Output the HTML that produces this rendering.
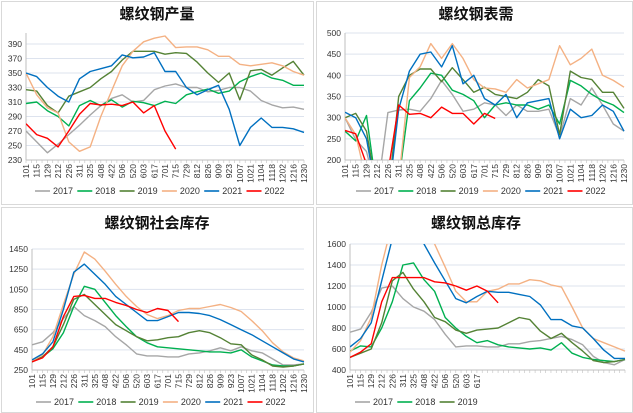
<!DOCTYPE html>
<html><head><meta charset="utf-8">
<style>
html,body{margin:0;padding:0;background:#fff;}
svg{display:block;font-family:"Liberation Sans","Noto Sans CJK SC",sans-serif;}
</style></head>
<body>
<svg id="c" width="633" height="413" viewBox="0 0 633 413"></svg>
<script>
const categories = ["101","115","129","212","226","311","325","408","422","506","520","603","617","701","715","729","812","826","909","923","1007","1021","1104","1118","1202","1216","1230"];
const years = ["2017","2018","2019","2020","2021","2022"];
const colors = ["#a6a6a6","#00b050","#548235","#f4b183","#0070c0","#ff0000"];

const prod2017 = [270,255,240,252,265,278,292,305,315,320,310,312,327,332,335,330,330,324,326,330,330,325,312,306,302,303,300];
const prod2018 = [308,310,298,290,277,305,312,305,313,303,311,309,305,311,308,320,324,328,322,325,338,345,350,343,340,333,333];
const prod2019 = [327,325,305,295,318,324,330,342,352,368,380,380,380,376,378,377,365,350,337,350,313,353,355,347,357,366,347];
const prod2020 = [350,320,302,295,255,242,248,290,325,360,380,393,398,401,385,386,386,382,373,373,362,360,362,364,360,352,347];
const prod2021 = [350,345,330,318,310,342,352,356,360,375,371,372,378,352,352,330,320,327,333,300,250,275,288,275,275,273,268];
const prod2022 = [280,265,260,248,270,293,308,306,307,305,310,295,305,270,245];

const dem2017 = [300,248,220,120,312,318,320,315,345,388,355,315,320,335,330,305,330,315,315,320,255,345,330,370,330,285,268];
const dem2018 = [268,245,305,120,100,150,340,370,405,400,365,355,340,300,330,335,330,330,320,330,285,388,375,355,340,330,312];
const dem2019 = [300,310,268,120,110,350,400,415,415,385,418,390,360,372,355,350,345,360,390,375,260,410,395,390,360,360,322];
const dem2020 = [300,260,150,100,100,150,395,420,475,440,475,440,390,370,368,360,390,370,380,390,470,425,440,462,400,388,372];
const dem2021 = [313,300,250,110,100,320,410,450,455,420,470,380,400,345,330,355,300,335,340,345,250,320,300,305,330,315,268];
const dem2022 = [270,262,190,110,170,330,308,310,300,325,310,310,285,310,298];

const soc2017 = [500,530,620,760,880,790,740,680,580,500,410,390,390,380,380,410,420,440,470,440,480,440,420,360,300,300,310];
const soc2018 = [330,380,460,620,880,1080,1050,920,790,680,580,520,480,470,460,450,440,430,430,420,450,380,340,300,290,290,310];
const soc2019 = [330,380,480,700,950,1000,900,800,700,640,580,540,550,570,580,620,640,620,570,510,500,400,350,290,280,290,310];
const soc2020 = [340,400,580,900,1200,1420,1350,1230,1100,980,880,800,760,790,840,860,860,880,900,870,830,740,640,520,430,370,340];
const soc2021 = [350,410,530,850,1220,1300,1200,1100,980,900,820,740,740,780,820,820,810,790,750,700,650,600,540,480,420,360,330];
const soc2022 = [330,370,480,780,980,990,960,960,920,890,850,820,860,840,730];

const tot2017 = [760,790,950,1180,1200,1080,1000,960,880,740,620,630,630,620,620,650,650,670,680,700,720,690,640,530,470,450,500];
const tot2018 = [580,630,620,800,1050,1400,1420,1260,1150,900,800,720,660,680,640,620,610,600,610,590,660,560,520,500,490,480,500];
const tot2019 = [520,560,600,850,1250,1330,1170,1050,900,860,780,750,780,790,800,850,900,880,770,700,750,660,580,490,470,480,500];
const tot2020 = [570,680,900,1400,1800,2000,2000,1800,1600,1380,1150,1050,1050,1150,1170,1220,1220,1260,1250,1210,1190,1000,800,700,660,620,580];
const tot2021 = [620,700,850,1250,1650,1900,1800,1600,1420,1250,1080,1040,1100,1150,1140,1140,1120,1100,1020,880,880,820,800,700,590,510,510];
const tot2022 = [520,570,650,1050,1280,1280,1280,1280,1240,1230,1200,1160,1200,1150,1040];

const prodTicks = [230,250,270,290,310,330,350,370,390];
const demTicks = [200,250,300,350,400,450,500];
const socTicks = [250,450,650,850,1050,1250,1450];
const totTicks = [400,600,800,1000,1200,1400,1600];

const NS = "http://www.w3.org/2000/svg";
const svg = document.getElementById('c');
function mk(tag, attrs, parent){
  const e = document.createElementNS(NS, tag);
  for (const k in attrs) e.setAttribute(k, attrs[k]);
  (parent||svg).appendChild(e);
  return e;
}

const panels = [
  {key:"production", title:"螺纹钢产量", box:[1,1,312,203], L:26, R:304, T:33, vTop:390, yTop:44, vBot:230, yBot:160,
   ticks:prodTicks, series:[prod2017,prod2018,prod2019,prod2020,prod2021,prod2022], titleX:157, titleY:19, legX:35, legY:194, nLeg:6, nLab:27},
  {key:"demand", title:"螺纹钢表需", box:[316,1,316,203], L:345, R:624, T:33, vTop:500, yTop:33, vBot:200, yBot:160,
   ticks:demTicks, series:[dem2017,dem2018,dem2019,dem2020,dem2021,dem2022], titleX:476, titleY:19, legX:356, legY:194, nLeg:6, nLab:27},
  {key:"social-inventory", title:"螺纹钢社会库存", box:[1,207,312,205], L:32, R:304, T:249, vTop:1450, yTop:249, vBot:250, yBot:370,
   ticks:socTicks, series:[soc2017,soc2018,soc2019,soc2020,soc2021,soc2022], titleX:157, titleY:228, legX:36, legY:405, nLeg:6, nLab:27},
  {key:"total-inventory", title:"螺纹钢总库存", box:[316,207,316,205], L:350, R:625, T:244, vTop:1600, yTop:244, vBot:400, yBot:370,
   ticks:totTicks, series:[tot2017,tot2018,tot2019,tot2020,tot2021,tot2022], titleX:476, titleY:228, legX:355, legY:405, nLeg:3, nLab:13}
];

panels.forEach((p, pi) => {
  const g = mk('g', {});
  
  
  const fr = mk('rect', {x:p.box[0]+0.5, y:p.box[1]+0.5, width:p.box[2], height:p.box[3], fill:'#fff', stroke:'#d9d9d9'}, g);
  
  
  const t = mk('text', {x:p.titleX, y:p.titleY, 'text-anchor':'middle', 'font-size':15, 'font-weight':'bold', fill:'#111'}, g);
  t.textContent = p.title;
  
  
  const yS = v => p.yBot + (v - p.vBot) * (p.yTop - p.yBot) / (p.vTop - p.vBot);
  const xS = i => p.L + i * (p.R - p.L) / (categories.length - 1);
  p.ticks.forEach(v => {
    const y = yS(v);
    const gl = mk('line', {x1:p.L, x2:p.R, y1:y, y2:y, stroke:'#dde3ee', 'stroke-width':1}, g);
    
    
    const tl = mk('text', {x:p.L-4, y:y+3, 'text-anchor':'end', 'font-size':8.5, fill:'#333'}, g);
    tl.textContent = v;
    
    
  });
  const ax = mk('line', {x1:p.L, x2:p.L, y1:p.T, y2:p.yBot, stroke:'#bfbfbf'}, g);
  
  
  const bx = mk('line', {x1:p.L, x2:p.R, y1:p.yBot, y2:p.yBot, stroke:'#bfbfbf'}, g);
  
  
  for (let i = 0; i < 53; i++) {
    const x = p.L + i * (p.R - p.L) / 52;
    mk('line', {x1:x, x2:x, y1:p.yBot, y2:p.yBot+3, stroke:'#bfbfbf', 'stroke-width':0.6}, g);
  }
  categories.forEach((c, i) => {
    if (i >= p.nLab) return;
    const x = xS(i);
    const tx = mk('text', {x:0, y:0, 'text-anchor':'end', 'font-size':8.5, fill:'#333', transform:`translate(${x+3},${p.yBot+4}) rotate(-90)`}, g);
    tx.textContent = c;
    
    
  });
  const cid = 'clip' + pi;
  const cp = mk('clipPath', {id:cid}, g);
  mk('rect', {x:p.L, y:p.T, width:p.R - p.L + 2, height:p.yBot - p.T}, cp);
  const sg = mk('g', {'clip-path':`url(#${cid})`}, g);
  p.series.forEach((arr, si) => {
    const d = arr.map((v, i) => (i ? 'L' : 'M') + xS(i).toFixed(1) + ',' + yS(v).toFixed(1)).join('');
    const pa = mk('path', {d:d, fill:'none', stroke:colors[si], 'stroke-width':1.4, 'stroke-linejoin':'round'}, sg);
    
    
  });
  for (let k = 0; k < p.nLeg; k++) {
    const lx = p.legX + k * 42.3;
    const le = mk('g', {}, g);
    
    
    mk('line', {x1:lx, x2:lx+15, y1:p.legY - 3, y2:p.legY - 3, stroke:colors[k], 'stroke-width':1.6}, le);
    const lt = mk('text', {x:lx+18, y:p.legY, 'font-size':9, fill:'#333'}, le);
    lt.textContent = years[k];
  }
});
</script>
</body></html>
